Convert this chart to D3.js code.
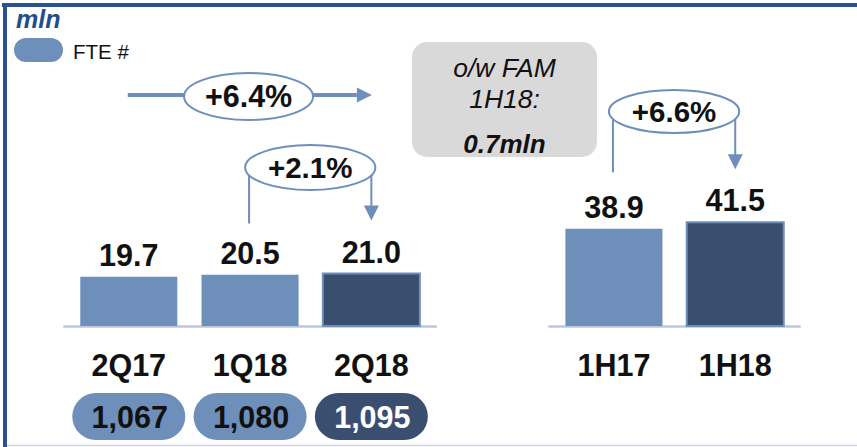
<!DOCTYPE html>
<html>
<head>
<meta charset="utf-8">
<script src="https://cdn.jsdelivr.net/npm/d3@7/dist/d3.min.js"></script>
<style>
  html, body { margin: 0; padding: 0; background: #fff; }
  svg { display: block; font-family: "Liberation Sans", Arial, sans-serif; }
</style>
</head>
<body>
<svg id="chart" width="857" height="447"></svg>
<script>
// ---- data ----
const quarterCats = ["2Q17", "1Q18", "2Q18"];
const quarterValues = [19.7, 20.5, 21.0];
const halfCats = ["1H17", "1H18"];
const halfValues = [38.9, 41.5];
const fteValues = ["1,067", "1,080", "1,095"];
const growthLabels = ["+6.4%", "+2.1%", "+6.6%"];
const unitLabel = "mln";
const legendLabel = "FTE #";
const noteLines = ["o/w FAM", "1H18:", "0.7mln"];

// ---- styles ----
const LIGHT = "#6f8fbb", DARK = "#3a4f70", AXIS = "#b9c8df", FRAME = "#2b5290";

const svg = d3.select("#chart");
const W = 857, H = 447;

const domain = [...quarterCats, "__gap__", ...halfCats];
const x = d3.scaleBand().domain(domain).range([56, 808]).paddingInner(0.2).paddingOuter(0.2);
const y = d3.scaleLinear().domain([0, 50]).range([326, 201]);
const cx = c => x(c) + x.bandwidth() / 2;

const bars = [
  ...quarterCats.map((c, i) => ({ c, v: quarterValues[i], dark: i === quarterCats.length - 1 })),
  ...halfCats.map((c, i) => ({ c, v: halfValues[i], dark: i === halfCats.length - 1 }))
];

// frame
svg.append("rect").attr("x", 2).attr("y", 3).attr("width", W - 2).attr("height", 4).attr("fill", FRAME);
svg.append("rect").attr("x", 3).attr("y", 3).attr("width", 4).attr("height", H - 3).attr("fill", FRAME);
svg.append("line").attr("x1", 7).attr("x2", W).attr("y1", 445.5).attr("y2", 445.5)
  .attr("stroke", "#c9d4e6").attr("stroke-width", 1.5);

// unit + legend
svg.append("text").attr("x", 16).attr("y", 28).text(unitLabel)
  .attr("font-size", 25).attr("font-weight", "bold").attr("font-style", "italic").attr("fill", "#1f4e8c");
svg.append("rect").attr("x", 14).attr("y", 38).attr("width", 49).attr("height", 24).attr("rx", 12)
  .attr("fill", LIGHT);
svg.append("text").attr("x", 73).attr("y", 59).text(legendLabel).attr("font-size", 20.5).attr("fill", "#111");

// axis baselines (one per group)
const ext = x.step() * 0.14;
[[quarterCats[0], quarterCats[quarterCats.length - 1]], [halfCats[0], halfCats[halfCats.length - 1]]]
  .forEach(([a, b]) => {
    svg.append("line").attr("x1", x(a) - ext).attr("x2", x(b) + x.bandwidth() + ext)
      .attr("y1", y(0) + 0.5).attr("y2", y(0) + 0.5).attr("stroke", AXIS).attr("stroke-width", 2.5);
  });

// bars
svg.selectAll("rect.bar").data(bars).join("rect").attr("class", "bar")
  .attr("x", d => x(d.c)).attr("width", x.bandwidth())
  .attr("y", d => y(d.v)).attr("height", d => y(0) - y(d.v))
  .attr("fill", d => d.dark ? DARK : LIGHT)
  .attr("stroke", d => d.dark ? LIGHT : "none").attr("stroke-width", 2);

// value labels
svg.selectAll("text.val").data(bars).join("text").attr("class", "val")
  .attr("x", d => cx(d.c)).attr("y", d => y(d.v) - 11)
  .attr("text-anchor", "middle").attr("font-size", 30.5).attr("font-weight", "bold").attr("fill", "#111")
  .text(d => d.v.toFixed(1));

// category labels
svg.selectAll("text.cat").data(bars).join("text").attr("class", "cat")
  .attr("x", d => cx(d.c)).attr("y", 376)
  .attr("text-anchor", "middle").attr("font-size", 30.5).attr("font-weight", "bold").attr("fill", "#111")
  .text(d => d.c);

// FTE pills
const pills = quarterCats.map((c, i) => ({ c, t: fteValues[i], dark: i === quarterCats.length - 1 }));
svg.selectAll("rect.pill").data(pills).join("rect").attr("class", "pill")
  .attr("x", d => cx(d.c) - 56.5).attr("y", 393).attr("width", 113).attr("height", 47).attr("rx", 23.5)
  .attr("fill", d => d.dark ? DARK : LIGHT);
svg.selectAll("text.pill").data(pills).join("text").attr("class", "pill")
  .attr("x", d => cx(d.c) + 1).attr("y", 428)
  .attr("text-anchor", "middle").attr("font-size", 30.5).attr("font-weight", "bold")
  .attr("fill", d => d.dark ? "#fff" : "#111").text(d => d.t);

// helpers
function arrowDown(xp, tip) {
  svg.append("path").attr("d", `M${xp - 7.5},${tip - 15}L${xp + 7.5},${tip - 15}L${xp},${tip}Z`).attr("fill", LIGHT);
}
function bubble(xc, yc, rx, ry, label, fs) {
  svg.append("ellipse").attr("cx", xc).attr("cy", yc).attr("rx", rx).attr("ry", ry)
    .attr("fill", "#fff").attr("stroke", LIGHT).attr("stroke-width", 2);
  svg.append("text").attr("x", xc).attr("y", yc + fs * 0.36).attr("text-anchor", "middle")
    .attr("font-size", fs).attr("font-weight", "bold").attr("fill", "#111").text(label);
}

// +6.4% horizontal arrow (2Q17 -> 2Q18)
{
  const x0 = cx(quarterCats[0]) - 1, x1 = cx(quarterCats[2]) + 0.5, yy = 95;
  svg.append("line").attr("x1", x0).attr("x2", x1 - 15).attr("y1", yy).attr("y2", yy)
    .attr("stroke", LIGHT).attr("stroke-width", 4);
  svg.append("path").attr("d", `M${x1 - 15},${yy - 7.5}L${x1 - 15},${yy + 7.5}L${x1},${yy}Z`).attr("fill", LIGHT);
  bubble(cx(quarterCats[1]) - 1.5, 96.5, 64.5, 23.5, growthLabels[0], 30.5);
}

// bracket helper
function bracket(a, b, vEnd, yc, ry, label) {
  const xa = cx(a) - 1, xb = cx(b);
  const tip = y(vEnd) - 53;
  svg.append("line").attr("x1", xa).attr("x2", xa).attr("y1", tip + 3).attr("y2", yc)
    .attr("stroke", LIGHT).attr("stroke-width", 2);
  svg.append("line").attr("x1", xb).attr("x2", xb).attr("y1", tip - 14).attr("y2", yc)
    .attr("stroke", LIGHT).attr("stroke-width", 2);
  arrowDown(xb, tip);
  bubble((xa + xb) / 2, yc, (xb - xa) / 2 + 4, ry, label, 29.5);
}
bracket(quarterCats[1], quarterCats[2], quarterValues[2], 167.5, 22.5, growthLabels[1]);
bracket(halfCats[0], halfCats[1], halfValues[1], 111.5, 21.5, growthLabels[2]);

// note box
svg.append("rect").attr("x", 412).attr("y", 42).attr("width", 185).attr("height", 115).attr("rx", 15)
  .attr("fill", "#d9d9d9");
const nx = 504.5;
svg.append("text").attr("x", nx).attr("y", 77).attr("text-anchor", "middle").attr("font-size", 26.5)
  .attr("font-style", "italic").attr("fill", "#111").text(noteLines[0]);
svg.append("text").attr("x", nx).attr("y", 108).attr("text-anchor", "middle").attr("font-size", 26.5)
  .attr("font-style", "italic").attr("fill", "#111").text(noteLines[1]);
svg.append("text").attr("x", nx).attr("y", 153).attr("text-anchor", "middle").attr("font-size", 26)
  .attr("font-style", "italic").attr("font-weight", "bold").attr("fill", "#111").text(noteLines[2]);
</script>
</body>
</html>
